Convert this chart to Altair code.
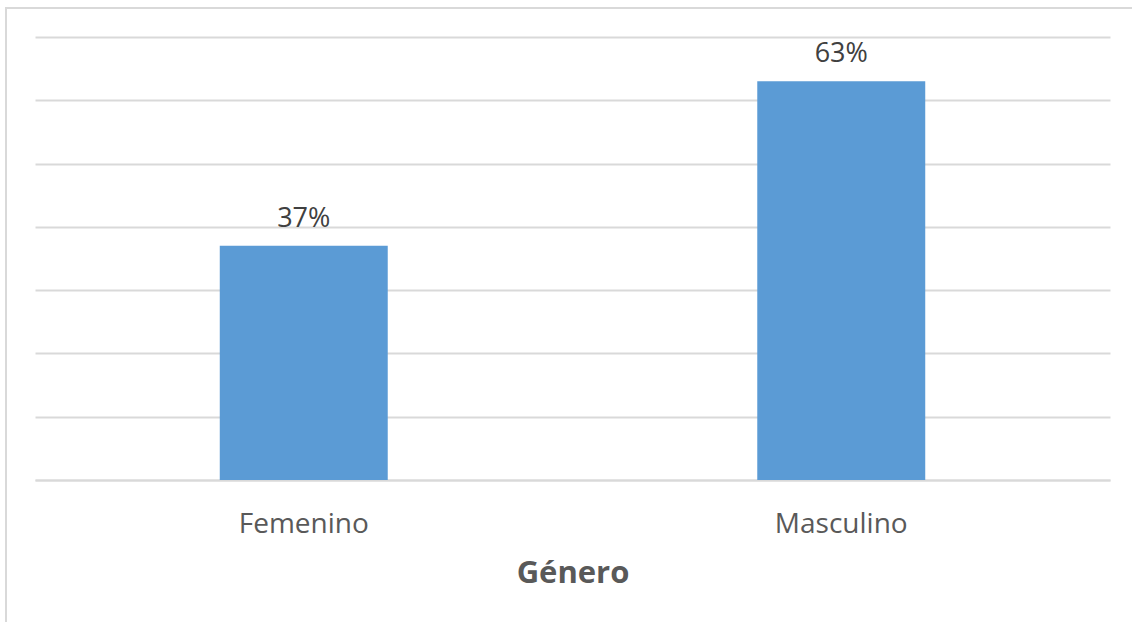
import altair as alt
import pandas as pd

categories = ["Femenino", "Masculino"]
values = [0.37, 0.63]
labels = ["37%", "63%"]

df = pd.DataFrame({"Genero": categories, "Valor": values, "Etiqueta": labels})

font = "Open Sans"
gray = "#595959"

x_enc = alt.X(
    "Genero:N",
    sort=categories,
    scale=alt.Scale(paddingInner=0.6875, paddingOuter=0.34375),
    axis=alt.Axis(
        title="Género",
        titleFont=font,
        titleFontSize=31,
        titleFontWeight="bold",
        titleColor=gray,
        titlePadding=20,
        labelFont=font,
        labelFontSize=28,
        labelColor=gray,
        labelAngle=0,
        labelPadding=30,
        ticks=False,
        domain=True,
        domainColor="#d9d9d9",
        domainWidth=2,
    ),
)

y_enc = alt.Y(
    "Valor:Q",
    scale=alt.Scale(domain=[0, 0.7], nice=False),
    axis=alt.Axis(
        title=None,
        labels=False,
        ticks=False,
        domain=False,
        values=[0, 0.1, 0.2, 0.3, 0.4, 0.5, 0.6, 0.7],
        grid=True,
        gridColor="#d9d9d9",
        gridWidth=2,
    ),
)

border = alt.Chart(df).mark_rect(
    fill=None, stroke="#d9d9d9", strokeWidth=2
).encode(
    x=alt.value(-29), x2=alt.value(1120), y=alt.value(-29), y2=alt.value(620)
)

bars = alt.Chart(df).mark_bar(color="#5b9bd5").encode(x=x_enc, y=y_enc)

text = alt.Chart(df).mark_text(
    font=font, fontSize=27, color="#404040", baseline="alphabetic", dy=-19
).encode(x=alt.X("Genero:N", sort=categories), y="Valor:Q", text="Etiqueta:N")

chart = alt.layer(border, bars, text).properties(
    width=1075,
    height=443,
    padding={"left": 35, "top": 37, "right": 22, "bottom": 142},
    autosize=alt.AutoSizeParams(type="none"),
    background="white",
).configure_view(stroke=None)

chart.save("out.html", embed_options={"renderer": "svg", "actions": False})
